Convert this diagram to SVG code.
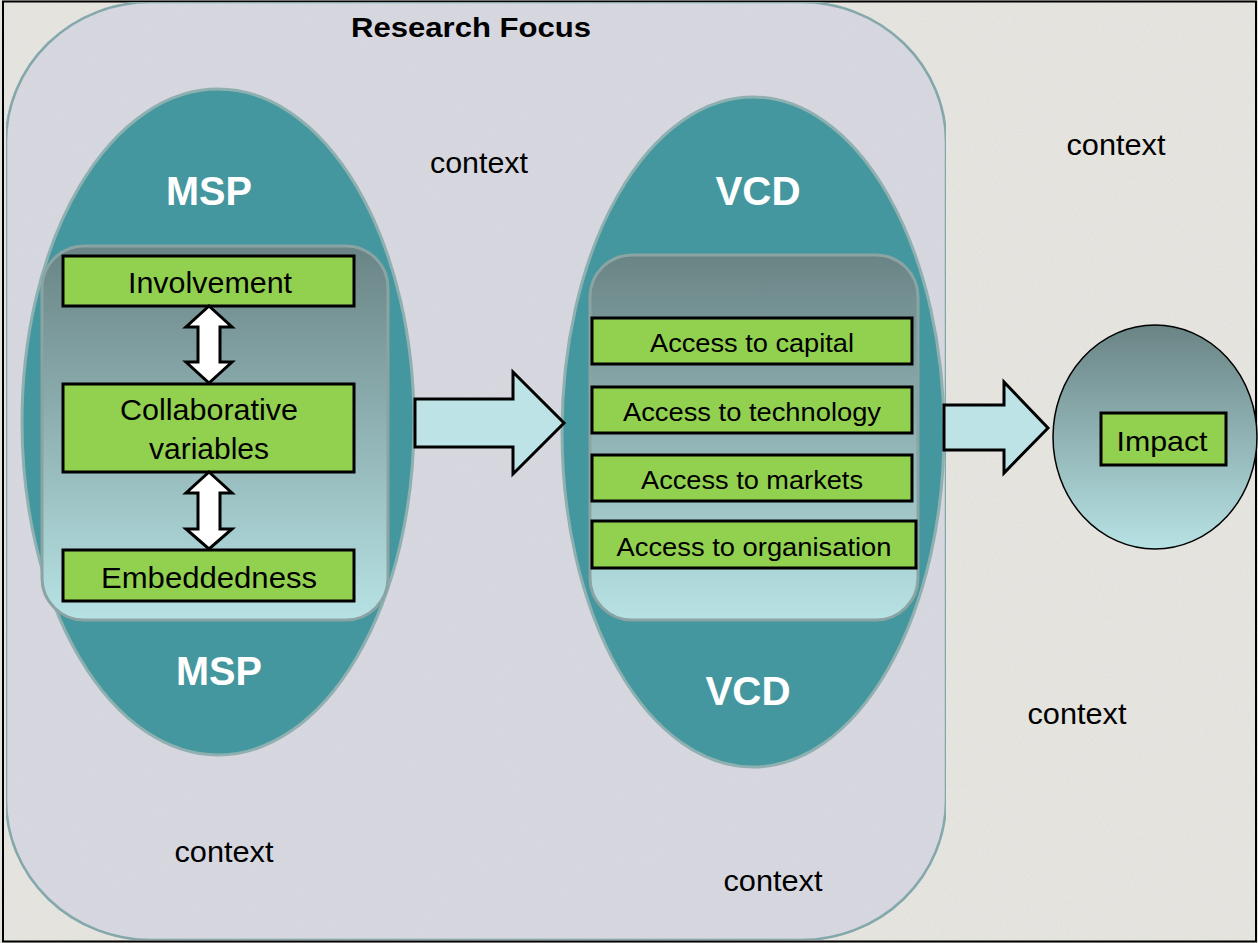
<svg xmlns="http://www.w3.org/2000/svg" width="1258" height="943" viewBox="0 0 1258 943">
<defs>
<linearGradient id="inner" x1="0" y1="0" x2="0" y2="1">
<stop offset="0" stop-color="#6a8485"/>
<stop offset="1" stop-color="#b7e2e4"/>
</linearGradient>
<filter id="grain" x="0" y="0" width="100%" height="100%">
<feTurbulence type="fractalNoise" baseFrequency="0.9" numOctaves="2" seed="3" result="n"/>
<feColorMatrix in="n" type="matrix" values="0 0 0 0 0.5  0 0 0 0 0.5  0 0 0 0 0.5  0 0 0 0.25 0" result="g"/>
<feComposite in="g" in2="SourceGraphic" operator="in" result="gm"/>
<feMerge><feMergeNode in="SourceGraphic"/><feMergeNode in="gm"/></feMerge>
</filter>
<style>
.box{fill:#92d050;stroke:#000;stroke-width:3}
.t{font-family:"Liberation Sans",Arial,sans-serif;fill:#000;text-anchor:middle}
.w{font-family:"Liberation Sans",Arial,sans-serif;fill:#fff;font-weight:bold;font-size:40px;text-anchor:middle}
.ctx{font-family:"Liberation Sans",Arial,sans-serif;font-size:29px;fill:#000;text-anchor:middle}
.ell{fill:#45979f;stroke:#8eb0b0;stroke-width:3}
.inr{fill:url(#inner);stroke:#8aa3a3;stroke-width:3}
.big{fill:#bde3e6;stroke:#000;stroke-width:3;stroke-linejoin:miter}
.dbl{fill:#fff;stroke:#000;stroke-width:3;stroke-linejoin:miter}
</style>
</defs>
<rect x="0" y="0" width="1258" height="943" fill="#e9e8e3" filter="url(#grain)"/>
<rect x="3" y="1.5" width="1253" height="940" fill="none" stroke="#000" stroke-width="2"/>
<g id="research-focus">
<rect x="6" y="2" width="940" height="938" rx="145" ry="140" fill="#dadae4" stroke="#7aa5a8" stroke-width="2.5" filter="url(#grain)"/>
<text class="t" x="471" y="37" font-size="28" font-weight="bold" textLength="240" lengthAdjust="spacingAndGlyphs">Research Focus</text>
</g>
<g id="ctx-labels">
<text class="ctx" x="479" y="173" textLength="98" lengthAdjust="spacingAndGlyphs">context</text>
<text class="ctx" x="1116" y="155" textLength="99" lengthAdjust="spacingAndGlyphs">context</text>
<text class="ctx" x="1077" y="724" textLength="99" lengthAdjust="spacingAndGlyphs">context</text>
<text class="ctx" x="224" y="862" textLength="99" lengthAdjust="spacingAndGlyphs">context</text>
<text class="ctx" x="773" y="891" textLength="99" lengthAdjust="spacingAndGlyphs">context</text>
</g>
<g id="msp">
<ellipse class="ell" cx="218" cy="422" rx="196" ry="333"/>
<rect class="inr" x="42" y="246" width="346" height="374" rx="42"/>
<text class="w" x="209" y="205" textLength="86" lengthAdjust="spacingAndGlyphs">MSP</text>
<text class="w" x="219" y="685" textLength="86" lengthAdjust="spacingAndGlyphs">MSP</text>
</g>
<g id="involvement">
<rect class="box" x="63" y="256" width="291" height="50"/>
<text class="t" x="210" y="293" font-size="29" textLength="164" lengthAdjust="spacingAndGlyphs">Involvement</text>
</g>
<g id="collaborative">
<rect class="box" x="63" y="384" width="291" height="88"/>
<text class="t" x="209" y="420" font-size="29" textLength="178" lengthAdjust="spacingAndGlyphs">Collaborative</text>
<text class="t" x="209" y="459" font-size="29" textLength="120" lengthAdjust="spacingAndGlyphs">variables</text>
</g>
<g id="embeddedness">
<rect class="box" x="63" y="550" width="291" height="51"/>
<text class="t" x="209" y="588" font-size="29" textLength="216" lengthAdjust="spacingAndGlyphs">Embeddedness</text>
</g>
<g id="vcd">
<ellipse class="ell" cx="753" cy="432" rx="191" ry="335"/>
<rect class="inr" x="590" y="255" width="328" height="365" rx="42"/>
<text class="w" x="758" y="205" textLength="85" lengthAdjust="spacingAndGlyphs">VCD</text>
<text class="w" x="748" y="705" textLength="85" lengthAdjust="spacingAndGlyphs">VCD</text>
</g>
<g id="capital">
<rect class="box" x="592" y="318" width="320" height="46"/>
<text class="t" x="752" y="352" font-size="26" textLength="204" lengthAdjust="spacingAndGlyphs">Access to capital</text>
</g>
<g id="technology">
<rect class="box" x="592" y="387" width="320" height="46"/>
<text class="t" x="752" y="421" font-size="26" textLength="258" lengthAdjust="spacingAndGlyphs">Access to technology</text>
</g>
<g id="markets">
<rect class="box" x="592" y="455" width="320" height="46"/>
<text class="t" x="752" y="489" font-size="26" textLength="222" lengthAdjust="spacingAndGlyphs">Access to markets</text>
</g>
<g id="organisation">
<rect class="box" x="592" y="521" width="324" height="47"/>
<text class="t" x="754" y="556" font-size="26" textLength="275" lengthAdjust="spacingAndGlyphs">Access to organisation</text>
</g>
<g id="impact">
<ellipse cx="1155" cy="437" rx="102" ry="112" fill="url(#inner)" stroke="#000" stroke-width="1.5"/>
<rect class="box" x="1101" y="413" width="125" height="52"/>
<text class="t" x="1162" y="451" font-size="28" textLength="91" lengthAdjust="spacingAndGlyphs">Impact</text>
</g>
<g id="connectors">
<path class="dbl" d="M209,306 L232,327 L220,327 L220,362 L232,362 L209,383 L186,362 L198,362 L198,327 L186,327 Z"/>
<path class="dbl" d="M209,472 L232,493 L220,493 L220,529 L232,529 L209,549 L186,529 L198,529 L198,493 L186,493 Z"/>
<path class="big" d="M415,399 L513,399 L513,372 L564,423 L513,474 L513,447 L415,447 Z"/>
<path class="big" d="M944,405 L1004,405 L1004,382 L1048,428 L1004,473 L1004,450 L944,450 Z"/>
</g>
</svg>
